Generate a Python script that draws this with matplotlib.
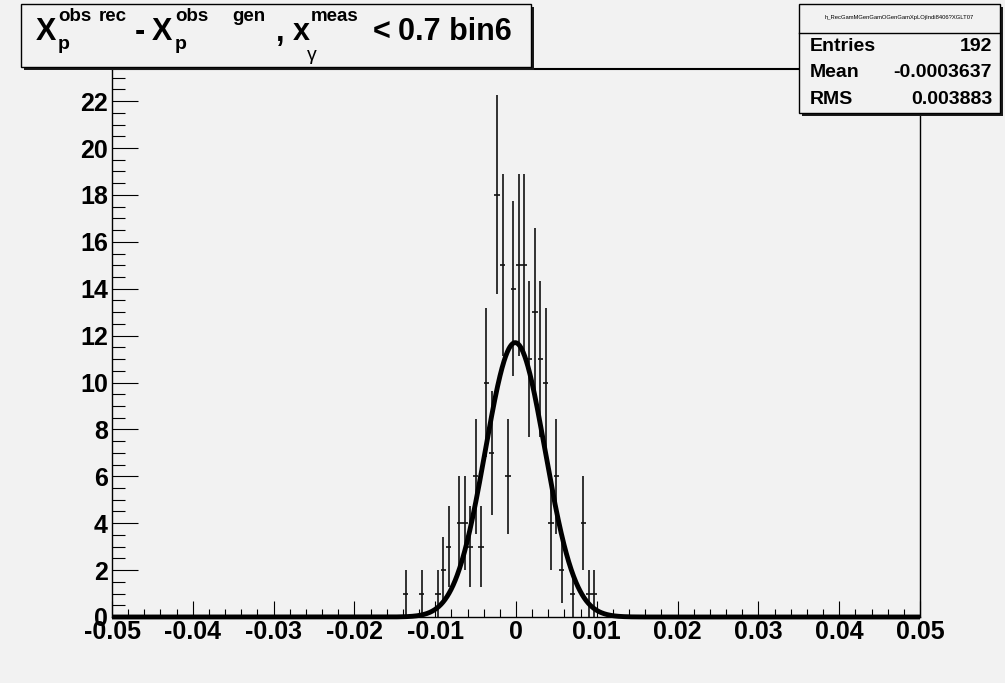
import numpy as np
import matplotlib
matplotlib.use("Agg")
import matplotlib.pyplot as plt
from matplotlib.patches import Rectangle

# ---------------- data ----------------
n_bins = 150
x_min, x_max = -0.05, 0.05
bin_index = [54, 57, 60, 61, 62, 64, 65, 66, 67, 68, 69, 70, 71, 72, 73, 74,
             75, 76, 77, 78, 79, 80, 81, 82, 83, 85, 87, 88, 89]
counts = [1, 1, 1, 2, 3, 4, 4, 3, 6, 3, 10, 7, 18, 15, 6, 14,
          15, 15, 11, 13, 11, 10, 4, 6, 2, 1, 4, 1, 1]

# Gaussian fit parameters
fit_amp = 11.7
fit_mean = -0.0001
fit_sigma = 0.0037

x_ticks = [-0.05, -0.04, -0.03, -0.02, -0.01, 0.0, 0.01, 0.02, 0.03, 0.04, 0.05]
x_tick_labels = ["-0.05", "-0.04", "-0.03", "-0.02", "-0.01", "0",
                 "0.01", "0.02", "0.03", "0.04", "0.05"]
y_ticks = [0, 2, 4, 6, 8, 10, 12, 14, 16, 18, 20, 22]
y_tick_labels = [str(v) for v in y_ticks]
y_max = 23.37

stats_name = "h_RecGamMGenGamOGenGamXpLOjIndi8406?XGLT07"
stats_labels = ["Entries", "Mean", "RMS"]
stats_values = ["192", "-0.0003637", "0.003883"]

# title pieces: (text, left px, baseline px, size, weight)
title_pieces = [
    ("X", 36, 40.5, 22, "bold"),
    ("p", 58, 49, 14, "bold"),
    ("obs", 58, 21, 13.5, "bold"),
    ("rec", 99, 21, 13.5, "bold"),
    ("-", 135, 40.5, 22, "bold"),
    ("X", 152, 40.5, 22, "bold"),
    ("p", 175, 49, 14, "bold"),
    ("obs", 175, 21, 13.5, "bold"),
    ("gen", 232, 21, 13.5, "bold"),
    (",", 276, 40.5, 22, "bold"),
    ("x", 293, 40.5, 22, "bold"),
    ("\u03b3", 307, 60, 14, "normal"),
    ("meas", 311, 21, 13.5, "bold"),
    ("<", 373, 40.5, 22, "bold"),
    ("0.7 bin6", 398, 40.5, 22, "bold"),
]

# ---------------- style ----------------
BG = "#f2f2f2"
FONT = "Liberation Sans"
plt.rcParams["font.family"] = [FONT, "DejaVu Sans"]
plt.rcParams["font.weight"] = "bold"

W, H = 1005, 683
fig = plt.figure(figsize=(W / 100, H / 100), dpi=100, facecolor=BG)

left, right, top, bottom = 112, 920, 69, 617
ax = fig.add_axes([left / W, 1 - bottom / H, (right - left) / W, (bottom - top) / H])
ax.set_facecolor(BG)

bw = (x_max - x_min) / n_bins
centers = np.array([x_min + (i + 0.5) * bw for i in bin_index])
vals = np.array(counts, dtype=float)
ax.errorbar(centers, vals, xerr=bw / 2, yerr=np.sqrt(vals), fmt="none",
            ecolor="#111111", elinewidth=1.2, capsize=0, zorder=3)

xf = np.linspace(x_min, x_max, 2000)
yf = fit_amp * np.exp(-0.5 * ((xf - fit_mean) / fit_sigma) ** 2)
ax.plot(xf, yf, color="black", lw=3.5, zorder=4, clip_on=False,
        solid_capstyle="butt")

ax.set_xlim(x_min, x_max)
ax.set_ylim(0, y_max)
ax.set_xticks(x_ticks)
ax.set_xticklabels(x_tick_labels)
ax.set_yticks(y_ticks)
ax.set_yticklabels(y_tick_labels)
ax.set_xticks(np.arange(-0.05, 0.0501, 0.002), minor=True)
ax.set_yticks(np.arange(0, y_max, 0.5), minor=True)

ax.tick_params(axis="x", which="major", direction="in", length=11.5, width=0.8,
               pad=2, labelsize=18)
ax.tick_params(axis="x", which="minor", direction="in", length=5.8, width=0.8)
ax.tick_params(axis="y", which="major", direction="in", length=18.7, width=0.8,
               pad=3, labelsize=18)
ax.tick_params(axis="y", which="minor", direction="in", length=9.2, width=0.8)
for lab in ax.get_xticklabels() + ax.get_yticklabels():
    lab.set_fontweight("bold")
for s in ax.spines.values():
    s.set_linewidth(1.0)
    s.set_color("black")
ax.spines["top"].set_linewidth(1.5)

# ---------------- overlay for boxes (pixel coordinates) ----------------
ov = fig.add_axes([0, 0, 1, 1], facecolor="none")
ov.set_xlim(0, W)
ov.set_ylim(H, 0)
ov.axis("off")

def root_box(x0, y0, x1, y1):
    ov.add_patch(Rectangle((x0 + 3, y0 + 3), x1 - x0, y1 - y0,
                           facecolor="#1a1a1a", edgecolor="none", zorder=5))
    ov.add_patch(Rectangle((x0, y0), x1 - x0, y1 - y0,
                           facecolor=BG, edgecolor="black", lw=1.0, zorder=6))

# title box
root_box(21, 4, 531, 67)
for txt, xl, yb, sz, wt in title_pieces:
    ov.text(xl, yb, txt, ha="left", va="baseline", fontsize=sz,
            fontweight=wt, color="black", zorder=7)

# stats box
root_box(799, 4, 1000, 113)
ov.plot([799, 1000], [33, 33], color="black", lw=1.0, zorder=7)
ov.text(899.5, 18, stats_name, ha="center", va="center", fontsize=4.2,
        fontweight="normal", color="black", zorder=7)
row_y = [46.5, 72.5, 99]
for lab, val, yy in zip(stats_labels, stats_values, row_y):
    ov.text(810, yy, lab, ha="left", va="center", fontsize=14,
            fontweight="bold", zorder=7)
    ov.text(992, yy, val, ha="right", va="center", fontsize=14,
            fontweight="bold", zorder=7)

fig.savefig("out.png", dpi=100, facecolor=BG)
